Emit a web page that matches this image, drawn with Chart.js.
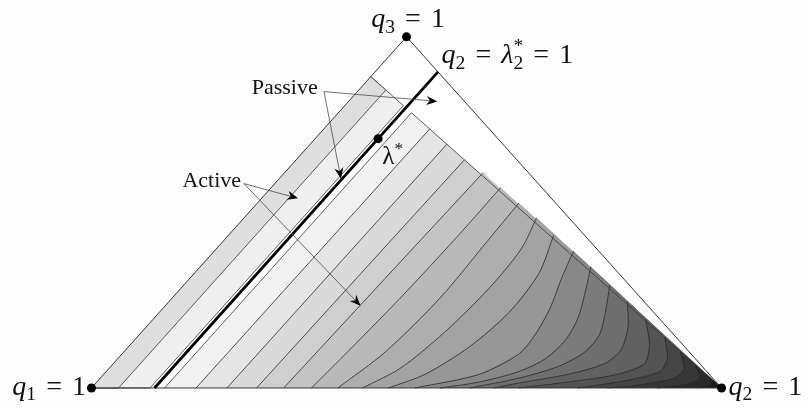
<!DOCTYPE html>
<html>
<head>
<meta charset="utf-8">
<script src="https://cdn.jsdelivr.net/npm/chart.js@4.4.1/dist/chart.umd.min.js"></script>
<style>
  html, body { margin: 0; padding: 0; background: #fdfdfe; }
  #wrap { width: 808px; height: 409px; }
</style>
</head>
<body>
<div id="wrap"><canvas id="tri"></canvas></div>
<script>
// every point is [q2, q3] (q1 = 1 - q2 - q3)
const corners = [[0, 0], [1, 0], [0, 1]];      // q1 = 1, q2 = 1, q3 = 1
const boundRatio = 0.128;                      // top edge of the shaded parts: q1 = 0.128 q3
const passiveLines = [0, 0.043, 0.093];        // q2 of the passive strip lines
const lambdaLine = [[0.1, 0], [0.1, 0.9]];     // q2 = lambda2*
const lambdaStar = [0.1, 0.71];
const activeEdge = 0.116;

// contour lines of the active part, top edge to bottom edge
const contours = [
    [[0.168, 0.738], [0.166, 0]],
    [[0.217, 0.694], [0.215, 0]],
    [[0.267, 0.650], [0.262, 0]],
    [[0.315, 0.613], [0.310, 0.312], [0.305, 0]],
    [[0.364, 0.571], [0.365, 0.437], [0.362, 0.256], [0.354, 0.084], [0.349, 0]],
    [[0.415, 0.527], [0.419, 0.423], [0.425, 0.256], [0.415, 0.103], [0.391, 0]],
    [[0.464, 0.485], [0.484, 0.396], [0.489, 0.284], [0.481, 0.159], [0.462, 0.056], [0.430, 0]],
    [[0.516, 0.435], [0.547, 0.326], [0.555, 0.215], [0.541, 0.117], [0.510, 0.039], [0.471, 0]],
    [[0.570, 0.390], [0.590, 0.312], [0.614, 0.228], [0.628, 0.153], [0.630, 0.098], [0.596, 0.039], [0.513, 0]],
    [[0.620, 0.345], [0.643, 0.284], [0.672, 0.201], [0.684, 0.137], [0.679, 0.084], [0.655, 0.047], [0.607, 0.017], [0.553, 0]],
    [[0.676, 0.293], [0.706, 0.220], [0.730, 0.153], [0.732, 0.103], [0.710, 0.061], [0.664, 0.028], [0.600, 0]],
    [[0.728, 0.245], [0.765, 0.173], [0.786, 0.109], [0.780, 0.070], [0.737, 0.039], [0.671, 0.014], [0.639, 0]],
    [[0.782, 0.195], [0.824, 0.123], [0.843, 0.070], [0.816, 0.039], [0.748, 0.017], [0.678, 0]],
    [[0.837, 0.145], [0.872, 0.084], [0.879, 0.047], [0.840, 0.022], [0.772, 0]],
    [[0.883, 0.103], [0.914, 0.053], [0.911, 0.028], [0.862, 0.008], [0.819, 0]],
    [[0.926, 0.064], [0.952, 0.028], [0.940, 0.011], [0.898, 0]],
    [[0.963, 0.033], [0.979, 0.011], [0.961, 0]]
];

const shades = ['#f1f1f1', '#e5e5e5', '#dadada', '#cfcfcf', '#c4c4c4', '#b9b9b9', '#aeaeae',
    '#a3a3a3', '#979797', '#888888', '#7b7b7b', '#6e6e6e', '#616161', '#535353', '#454545',
    '#373737', '#292929', '#1b1b1b'];
const edgeCol = '#3a3434';

const toXY = ([q2, q3]) => ({ x: q2 + q3 / 2, y: q3 });
const onTop = q2 => [q2, (1 - q2) / (1 + boundRatio)];

function poly(points, fillCol, order, stroke) {
    return {
        data: points.map(toXY), showLine: true, fill: 'shape', backgroundColor: fillCol,
        borderColor: stroke ? edgeCol : 'transparent', borderWidth: 0.8,
        pointRadius: 0, tension: 0, order: order
    };
}
function line(points, col, width, order, tension) {
    return {
        data: points.map(toXY), showLine: true, fill: false, borderColor: col,
        borderWidth: width, pointRadius: 0, tension: tension || 0, order: order
    };
}

const datasets = [];
datasets.push(poly(corners, '#ffffff', 100, false));
datasets.push(poly([onTop(passiveLines[0]), onTop(passiveLines[2]), [passiveLines[2], 0], [0, 0]], '#efefef', 90, true));
datasets.push(poly([onTop(passiveLines[0]), onTop(passiveLines[1]), [passiveLines[1], 0], [0, 0]], '#dedede', 89, true));
datasets.push(poly([onTop(activeEdge), [activeEdge, 0], corners[1]], shades[0], 80, false));
contours.forEach((c, i) => {
    datasets.push(poly(c.concat([corners[1]]), shades[i + 1], 79 - i, false));
});
contours.forEach(c => datasets.push(line(c, '#2a2a2a', 0.8, 40, 0.3)));
datasets.push(line([[activeEdge, 0], onTop(activeEdge), corners[1]], edgeCol, 0.8, 30));
datasets.push(line([corners[0], corners[2], corners[1], corners[0]], edgeCol, 1, 20));
datasets.push(line(lambdaLine, '#000000', 2.8, 10));
datasets.push({
    data: corners.concat([lambdaStar]).map(toXY), showLine: false,
    pointRadius: 4.5, pointBackgroundColor: '#000', pointBorderWidth: 0, order: 0
});

// annotations, placed in the chart's x/y units
const arrows = [
    { from: [0.369, 0.844], to: [0.549, 0.816] },
    { from: [0.369, 0.844], to: [0.396, 0.596] },
    { from: [0.242, 0.582], to: [0.328, 0.540] },
    { from: [0.242, 0.582], to: [0.427, 0.234] }
];
const eq = [{ gap: 0.36 }, { t: '=' }, { gap: 0.36 }];
const labels = [
    { at: [-0.1256, -0.0195], size: 28, runs: [{ t: 'q', it: 1 }, { t: '1', sub: 1 }, ...eq, { t: '1' }] },
    { at: [1.011, -0.0195], size: 28, runs: [{ t: 'q', it: 1 }, { t: '2', sub: 1 }, ...eq, { t: '1' }] },
    { at: [0.444, 1.027], size: 28, runs: [{ t: 'q', it: 1 }, { t: '3', sub: 1 }, ...eq, { t: '1' }] },
    { at: [0.5557, 0.925], size: 28, runs: [{ t: 'q', it: 1 }, { t: '2', sub: 1 }, ...eq,
        { t: 'λ', it: 1 }, { t: '*', sup: 1, stay: 1 }, { t: '2', sub: 1 }, ...eq, { t: '1' }] },
    { at: [0.4615, 0.638], size: 25, runs: [{ t: 'λ' }, { t: '*', sup: 1 }] },
    { at: [0.2543, 0.8384], size: 22, runs: [{ t: 'Passive' }] },
    { at: [0.1444, 0.571], size: 22, runs: [{ t: 'Active' }] }
];

const annotate = {
    id: 'annotate',
    afterDatasetsDraw(chart) {
        const { ctx, scales: { x, y } } = chart;
        const px = p => [x.getPixelForValue(p[0]), y.getPixelForValue(p[1])];
        ctx.save();
        arrows.forEach(a => {
            const [x0, y0] = px(a.from);
            const [x1, y1] = px(a.to);
            const ang = Math.atan2(y1 - y0, x1 - x0);
            ctx.strokeStyle = '#4a4a4a';
            ctx.lineWidth = 0.8;
            ctx.beginPath();
            ctx.moveTo(x0, y0);
            ctx.lineTo(x1 - 6 * Math.cos(ang), y1 - 6 * Math.sin(ang));
            ctx.stroke();
            ctx.translate(x1, y1);
            ctx.rotate(ang);
            ctx.fillStyle = '#000';
            ctx.beginPath();
            ctx.moveTo(0, 0);
            ctx.lineTo(-11, -4.5);
            ctx.lineTo(-7.5, 0);
            ctx.lineTo(-11, 4.5);
            ctx.closePath();
            ctx.fill();
            ctx.setTransform(1, 0, 0, 1, 0, 0);
        });
        ctx.fillStyle = '#111';
        ctx.textBaseline = 'alphabetic';
        labels.forEach(l => {
            let [cx, cy] = px(l.at);
            l.runs.forEach(r => {
                if (r.gap) { cx += r.gap * l.size; return; }
                const fs = (r.sub || r.sup) ? l.size * 0.7 : l.size;
                ctx.font = (r.it ? 'italic ' : '') + fs + 'px "Liberation Serif"';
                const dy = r.sub ? l.size * 0.2 : r.sup ? -l.size * 0.4 : 0;
                ctx.fillText(r.t, cx, cy + dy);
                if (!r.stay) cx += ctx.measureText(r.t).width;
            });
        });
        ctx.restore();
    }
};

new Chart(document.getElementById('tri'), {
    type: 'scatter',
    data: { datasets },
    options: {
        responsive: true,
        maintainAspectRatio: false,
        animation: false,
        events: [],
        layout: { padding: 0 },
        plugins: { legend: { display: false }, tooltip: { enabled: false } },
        scales: {
            x: { type: 'linear', display: false, min: -0.138, max: 1.130 },
            y: { type: 'linear', display: false, min: -0.047, max: 1.092 }
        }
    },
    plugins: [annotate]
});
</script>
</body>
</html>
